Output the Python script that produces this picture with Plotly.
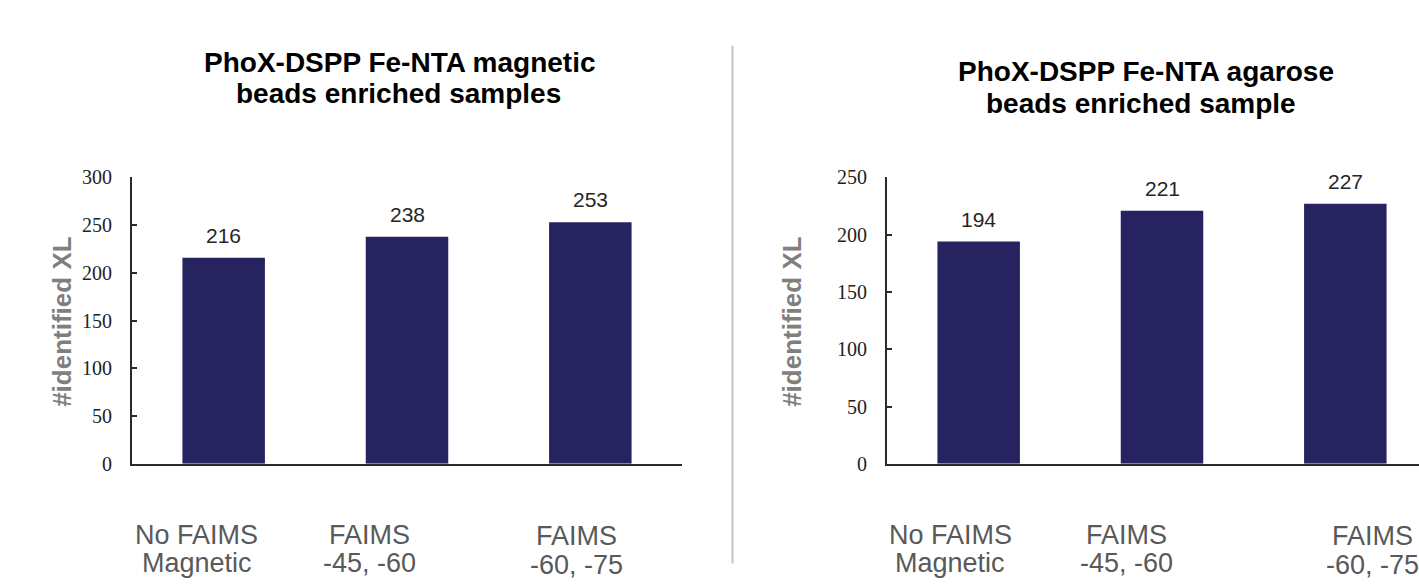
import plotly.graph_objects as go

# Data
categories = [0, 1, 2]
label_line1 = ["No FAIMS", "FAIMS", "FAIMS"]
label_line2 = ["Magnetic", "-45, -60", "-60, -75"]
magnetic_xl = [216, 238, 253]
agarose_xl = [194, 221, 227]
left_ticks = [0, 50, 100, 150, 200, 250, 300]
right_ticks = [0, 50, 100, 150, 200, 250]

title_left = ["PhoX-DSPP Fe-NTA magnetic", "beads enriched samples"]
title_right = ["PhoX-DSPP Fe-NTA agarose", "beads enriched sample"]
y_title = "#identified XL"

# Styling / layout constants
W, H = 1419, 585
BAR_COLOR = "#272260"
AXIS_COLOR = "#2b2b2b"
SANS = "Arial, Liberation Sans, sans-serif"
SERIF = "Times New Roman, Liberation Serif, serif"
Y_DOM = [1 - 470.5 / H, 1 - 173 / H]
CAT_PX = 183.33  # width of one category slot in pixels

# horizontal centres of the two-line category captions (in category units)
left_label_x = [-0.148, 0.793, 1.922]
right_label_x = [-0.156, 0.804, 2.146]
label_row1_px = [544, 544, 546]
label_row2_px = [574, 574, 576]

# title line centres in pixels (x, y)
title_left_pos = [(400, 53), (398, 86)]
title_right_pos = [(1146, 63), (1141, 96)]

fig = go.Figure()
fig.add_trace(go.Bar(x=categories, y=magnetic_xl, width=0.45,
                     marker=dict(color=BAR_COLOR, line=dict(width=0)),
                     xaxis="x", yaxis="y", showlegend=False, hoverinfo="y"))
fig.add_trace(go.Bar(x=categories, y=agarose_xl, width=0.45,
                     marker=dict(color=BAR_COLOR, line=dict(width=0)),
                     xaxis="x2", yaxis="y2", showlegend=False, hoverinfo="y"))

xaxis_common = dict(showline=True, linecolor=AXIS_COLOR, linewidth=2,
                    showgrid=False, zeroline=False, showticklabels=False,
                    ticks="", fixedrange=True)
yaxis_common = dict(showline=True, linecolor=AXIS_COLOR, linewidth=2,
                    showgrid=False, zeroline=False, ticks="inside",
                    ticklen=5, tickwidth=2, tickcolor=AXIS_COLOR,
                    tickfont=dict(family=SERIF, size=20, color="#222222"),
                    ticklabelstandoff=14, domain=Y_DOM)

fig.update_layout(
    width=W, height=H,
    margin=dict(l=0, r=0, t=0, b=0),
    paper_bgcolor="white", plot_bgcolor="white",
    xaxis=dict(domain=[132 / W, 682 / W], range=[-0.5, 2.5], anchor="y",
               **xaxis_common),
    yaxis=dict(range=[0, 300], tickvals=left_ticks, anchor="x", **yaxis_common),
    xaxis2=dict(domain=[887 / W, 1.0], range=[-0.5, -0.5 + (W - 887) / CAT_PX],
                anchor="y2", **xaxis_common),
    yaxis2=dict(range=[0, 250], tickvals=right_ticks, anchor="x2", **yaxis_common),
)

annotations = []

# value labels above bars
for xref, yref, vals in (("x", "y", magnetic_xl), ("x2", "y2", agarose_xl)):
    for c, v in zip(categories, vals):
        annotations.append(dict(x=c, y=v, xref=xref, yref=yref, text=str(v),
                                showarrow=False, xanchor="center", yanchor="bottom",
                                yshift=9,
                                font=dict(family=SANS, size=21, color="#262626")))

# category captions under each axis
for xref, xs in (("x", left_label_x), ("x2", right_label_x)):
    for i, lx in enumerate(xs):
        for txt, row in ((label_line1[i], label_row1_px[i]),
                         (label_line2[i], label_row2_px[i])):
            annotations.append(dict(x=lx, xref=xref, y=1 - row / H, yref="paper",
                                    text=txt, showarrow=False,
                                    xanchor="center", yanchor="middle",
                                    font=dict(family=SANS, size=27, color="#595959")))

# panel titles, one annotation per line
for lines, pos in ((title_left, title_left_pos), (title_right, title_right_pos)):
    for txt, (px, py) in zip(lines, pos):
        annotations.append(dict(x=px / W, y=1 - py / H, xref="paper", yref="paper",
                                text="<b>" + txt + "</b>", showarrow=False,
                                xanchor="center", yanchor="middle",
                                font=dict(family=SANS, size=28, color="black")))

# y-axis titles
for xp in (62 / W, 792 / W):
    annotations.append(dict(x=xp, y=1 - 323 / H, xref="paper", yref="paper",
                            text="<b>" + y_title + "</b>", textangle=-90,
                            showarrow=False, xanchor="center", yanchor="middle",
                            font=dict(family=SANS, size=26, color="#7f7f7f")))

fig.update_layout(annotations=annotations)

# divider between the two panels
fig.add_shape(type="line", xref="paper", yref="paper",
              x0=732.5 / W, x1=732.5 / W, y0=1 - 36 / H, y1=1 - 574 / H,
              line=dict(color="#c4c4c4", width=2))

fig.write_html("out.html")
